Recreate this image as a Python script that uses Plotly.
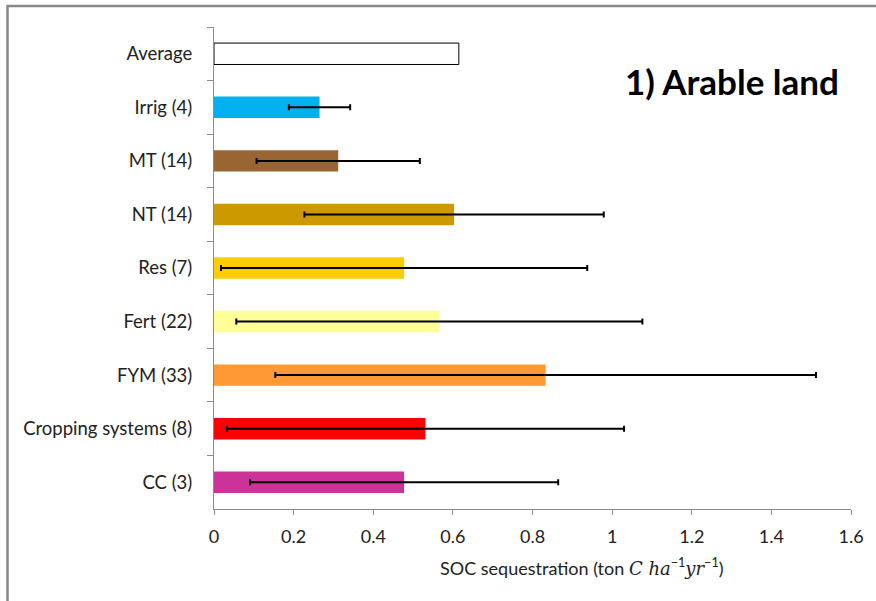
import plotly.graph_objects as go

categories = ["Average", "Irrig (4)", "MT (14)", "NT (14)", "Res (7)", "Fert (22)",
              "FYM (33)", "Cropping systems (8)", "CC (3)"]
average_value = [0.615]
treatment_values = [0.265, 0.312, 0.603, 0.4775, 0.566, 0.833, 0.531, 0.4775]
treatment_errors = [0.077, 0.205, 0.376, 0.46, 0.51, 0.679, 0.499, 0.387]
treatment_colors = ["#00B0F0", "#996633", "#CC9900", "#FFCC00", "#FFFF99",
                    "#FF9933", "#FF0000", "#CC3399"]
x_ticks = [0, 0.2, 0.4, 0.6, 0.8, 1, 1.2, 1.4, 1.6]
x_tick_labels = ["0", "0.2", "0.4", "0.6", "0.8", "1", "1.2", "1.4", "1.6"]

W, H = 876, 601
L, R, T, B = 214, 25, 27, 92
pw, ph = W - L - R, H - T - B

def px(x):
    return (x - L) / pw

def py(y):
    return (H - B - y) / ph

FONT = "Lato"

fig = go.Figure()
fig.add_trace(go.Bar(
    x=average_value, y=categories[:1], orientation="h", width=0.4,
    marker=dict(color="white", line=dict(color="black", width=1)),
    showlegend=False, hoverinfo="x+y"))
fig.add_trace(go.Bar(
    x=treatment_values, y=categories[1:], orientation="h", width=0.4,
    marker=dict(color=treatment_colors, line=dict(width=0)),
    error_x=dict(type="data", array=treatment_errors, visible=True,
                 color="black", thickness=2, width=3),
    showlegend=False, hoverinfo="x+y"))

fig.update_layout(
    width=W, height=H, barmode="overlay",
    margin=dict(l=L, r=R, t=T, b=B, autoexpand=False),
    paper_bgcolor="white", plot_bgcolor="white",
    font=dict(family=FONT, size=18, color="#222222"),
    xaxis=dict(range=[0, 1.6], tickvals=x_ticks, ticktext=x_tick_labels,
               showgrid=False, zeroline=False, showline=True,
               linecolor="#8C8C8C", linewidth=1, ticks="outside",
               ticklen=5, tickcolor="#8C8C8C", ticklabelstandoff=6,
               tickfont=dict(size=18)),
    yaxis=dict(categoryorder="array", categoryarray=categories,
               autorange="reversed", showgrid=False, zeroline=False,
               showline=True, linecolor="#8C8C8C", linewidth=1,
               ticks="outside", tickson="boundaries", ticklen=6,
               tickcolor="#8C8C8C", ticklabelstandoff=17,
               tickfont=dict(size=18.5)),
    shapes=[
        dict(type="line", xref="paper", yref="paper", x0=px(7), x1=px(W + 5),
             y0=py(6), y1=py(6), line=dict(color="#888888", width=2.5)),
        dict(type="line", xref="paper", yref="paper", x0=px(7.5), x1=px(7.5),
             y0=py(5), y1=py(H + 5), line=dict(color="#888888", width=2.5)),
    ],
    annotations=[
        dict(text="<b>1) Arable land</b>", xref="paper", yref="paper",
             x=px(732), y=py(81), xanchor="center", yanchor="middle",
             showarrow=False, font=dict(family=FONT, size=35, color="black")),
        dict(text="SOC sequestration (ton <span style='font-family:DejaVu Serif'><i>C ha</i></span>"
                  "<sup>−1</sup><span style='font-family:DejaVu Serif'><i>yr</i></span><sup>−1</sup>)",
             xref="paper", yref="paper", x=px(582), y=py(567),
             xanchor="center", yanchor="middle", showarrow=False,
             font=dict(family=FONT, size=18, color="#222222")),
    ],
)

fig.write_html("out.html", config={"displayModeBar": False},
               post_script="document.body.style.margin='0';")
